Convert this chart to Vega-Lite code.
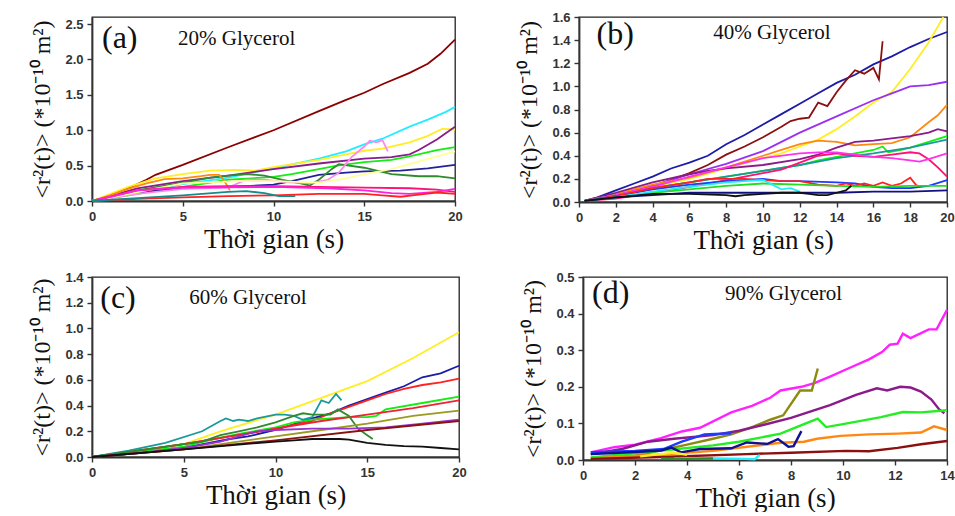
{
"$schema": "https://vega.github.io/schema/vega-lite/v6.json",
"background": "white",
"padding": {"left": 30, "top": 10, "right": 0, "bottom": 0},
"config": {
  "view": {"stroke": "#222", "strokeWidth": 1.3},
  "axis": {"labelFont": "Liberation Sans", "labelFontWeight": "bold", "labelFontSize": 13, "labelColor": "#333", "titleFont": "Liberation Serif", "titleFontWeight": "normal", "titleColor": "#111", "tickSize": 5, "tickWidth": 1.4, "tickColor": "#333", "domainColor": "#333", "domainWidth": 1.8, "grid": false, "labelFlush": false, "labelOverlap": false, "labelPadding": 4},
  "axisX": {"titleFontSize": 27, "titlePadding": 3},
  "axisY": {"titleFontSize": 24, "titlePadding": 10},
  "line": {"strokeWidth": 1.8, "clip": true},
  "text": {"font": "Liberation Serif", "align": "left", "baseline": "middle", "color": "#111"}
},
"datasets": {
"A": [
{"s":"a1","t":0,"r":0},{"s":"a1","t":1,"r":0.08},{"s":"a1","t":2,"r":0.18},{"s":"a1","t":3,"r":0.3},{"s":"a1","t":3.5,"r":0.37},{"s":"a1","t":5,"r":0.51},{"s":"a1","t":7.5,"r":0.76},{"s":"a1","t":10,"r":1.0},{"s":"a1","t":12.5,"r":1.27},{"s":"a1","t":14,"r":1.43},{"s":"a1","t":15,"r":1.53},{"s":"a1","t":16,"r":1.65},{"s":"a1","t":17.5,"r":1.81},{"s":"a1","t":18.5,"r":1.94},{"s":"a1","t":19.2,"r":2.08},{"s":"a1","t":20,"r":2.28},
{"s":"a2","t":0,"r":0},{"s":"a2","t":2.5,"r":0.12},{"s":"a2","t":5,"r":0.24},{"s":"a2","t":7.5,"r":0.33},{"s":"a2","t":10,"r":0.46},{"s":"a2","t":12.5,"r":0.6},{"s":"a2","t":14,"r":0.7},{"s":"a2","t":15,"r":0.8},{"s":"a2","t":16,"r":0.88},{"s":"a2","t":17.5,"r":1.05},{"s":"a2","t":18.5,"r":1.15},{"s":"a2","t":19.5,"r":1.26},{"s":"a2","t":20,"r":1.33},
{"s":"a3","t":0,"r":0},{"s":"a3","t":2,"r":0.2},{"s":"a3","t":3.5,"r":0.32},{"s":"a3","t":5,"r":0.38},{"s":"a3","t":6.5,"r":0.43},{"s":"a3","t":8,"r":0.44},{"s":"a3","t":9,"r":0.43},{"s":"a3","t":10,"r":0.48},{"s":"a3","t":12.5,"r":0.58},{"s":"a3","t":14,"r":0.66},{"s":"a3","t":15,"r":0.71},{"s":"a3","t":16,"r":0.74},{"s":"a3","t":17.5,"r":0.83},{"s":"a3","t":18.5,"r":0.92},{"s":"a3","t":19.3,"r":1.02},{"s":"a3","t":20,"r":1.01},
{"s":"a4","t":0,"r":0},{"s":"a4","t":2.5,"r":0.18},{"s":"a4","t":5,"r":0.28},{"s":"a4","t":7.5,"r":0.36},{"s":"a4","t":10,"r":0.45},{"s":"a4","t":12.5,"r":0.53},{"s":"a4","t":15,"r":0.6},{"s":"a4","t":16.5,"r":0.62},{"s":"a4","t":17.5,"r":0.66},{"s":"a4","t":18,"r":0.72},{"s":"a4","t":19,"r":0.87},{"s":"a4","t":20,"r":1.05},
{"s":"a5","t":0,"r":0},{"s":"a5","t":2.5,"r":0.1},{"s":"a5","t":5,"r":0.2},{"s":"a5","t":7.5,"r":0.3},{"s":"a5","t":10,"r":0.34},{"s":"a5","t":11,"r":0.38},{"s":"a5","t":12.5,"r":0.45},{"s":"a5","t":13.5,"r":0.5},{"s":"a5","t":15,"r":0.55},{"s":"a5","t":16.5,"r":0.58},{"s":"a5","t":17.5,"r":0.63},{"s":"a5","t":19,"r":0.72},{"s":"a5","t":20,"r":0.76},
{"s":"a6","t":0,"r":0},{"s":"a6","t":2.5,"r":0.12},{"s":"a6","t":5,"r":0.18},{"s":"a6","t":7.5,"r":0.2},{"s":"a6","t":10,"r":0.23},{"s":"a6","t":11,"r":0.28},{"s":"a6","t":12.5,"r":0.37},{"s":"a6","t":14,"r":0.4},{"s":"a6","t":15,"r":0.42},{"s":"a6","t":17,"r":0.43},{"s":"a6","t":18.5,"r":0.46},{"s":"a6","t":20,"r":0.51},
{"s":"a7","t":0,"r":0},{"s":"a7","t":2.5,"r":0.15},{"s":"a7","t":5,"r":0.26},{"s":"a7","t":6.5,"r":0.33},{"s":"a7","t":7.5,"r":0.36},{"s":"a7","t":8.5,"r":0.38},{"s":"a7","t":9.5,"r":0.36},{"s":"a7","t":10.5,"r":0.3},{"s":"a7","t":11.5,"r":0.25},{"s":"a7","t":12,"r":0.22},{"s":"a7","t":12.5,"r":0.3},{"s":"a7","t":13.2,"r":0.45},{"s":"a7","t":13.6,"r":0.52},{"s":"a7","t":15,"r":0.47},{"s":"a7","t":16.5,"r":0.38},{"s":"a7","t":18,"r":0.35},{"s":"a7","t":19,"r":0.35},{"s":"a7","t":20,"r":0.32},
{"s":"a8","t":0,"r":0},{"s":"a8","t":1,"r":0.08},{"s":"a8","t":2,"r":0.17},{"s":"a8","t":3,"r":0.25},{"s":"a8","t":4,"r":0.31},{"s":"a8","t":5,"r":0.32},{"s":"a8","t":6,"r":0.35},{"s":"a8","t":6.5,"r":0.37},{"s":"a8","t":7,"r":0.37},{"s":"a8","t":7.3,"r":0.28},{"s":"a8","t":7.6,"r":0.15},
{"s":"a9","t":0,"r":0},{"s":"a9","t":2.5,"r":0.1},{"s":"a9","t":5,"r":0.17},{"s":"a9","t":7.5,"r":0.19},{"s":"a9","t":8.5,"r":0.3},{"s":"a9","t":9.5,"r":0.3},{"s":"a9","t":10.5,"r":0.27},{"s":"a9","t":12,"r":0.25},{"s":"a9","t":13,"r":0.3},{"s":"a9","t":13.6,"r":0.4},{"s":"a9","t":14.3,"r":0.62},{"s":"a9","t":15,"r":0.77},{"s":"a9","t":15.3,"r":0.85},{"s":"a9","t":15.7,"r":0.83},{"s":"a9","t":16,"r":0.86},{"s":"a9","t":16.3,"r":0.7},
{"s":"a10","t":0,"r":0},{"s":"a10","t":5,"r":0.25},{"s":"a10","t":8,"r":0.28},{"s":"a10","t":10,"r":0.28},{"s":"a10","t":12.5,"r":0.26},{"s":"a10","t":14,"r":0.32},{"s":"a10","t":15,"r":0.38},{"s":"a10","t":16.5,"r":0.45},{"s":"a10","t":17.5,"r":0.52},{"s":"a10","t":19,"r":0.63},{"s":"a10","t":20,"r":0.7},
{"s":"a11","t":0,"r":0},{"s":"a11","t":2.5,"r":0.15},{"s":"a11","t":5,"r":0.2},{"s":"a11","t":7.5,"r":0.21},{"s":"a11","t":10,"r":0.21},{"s":"a11","t":12.5,"r":0.2},{"s":"a11","t":15,"r":0.19},{"s":"a11","t":17.5,"r":0.18},{"s":"a11","t":19,"r":0.16},{"s":"a11","t":20,"r":0.13},
{"s":"a12","t":0,"r":0},{"s":"a12","t":2.5,"r":0.15},{"s":"a12","t":5,"r":0.19},{"s":"a12","t":10,"r":0.2},{"s":"a12","t":13,"r":0.18},{"s":"a12","t":15,"r":0.15},{"s":"a12","t":16.5,"r":0.11},{"s":"a12","t":17.5,"r":0.1},{"s":"a12","t":19,"r":0.13},{"s":"a12","t":20,"r":0.17},
{"s":"a13","t":0,"r":0},{"s":"a13","t":2.5,"r":0.03},{"s":"a13","t":5,"r":0.05},{"s":"a13","t":7.5,"r":0.07},{"s":"a13","t":10,"r":0.08},{"s":"a13","t":12.5,"r":0.1},{"s":"a13","t":15,"r":0.1},{"s":"a13","t":16,"r":0.08},{"s":"a13","t":17,"r":0.06},{"s":"a13","t":18,"r":0.09},{"s":"a13","t":19,"r":0.12},{"s":"a13","t":20,"r":0.1},
{"s":"a14","t":0,"r":0},{"s":"a14","t":2.5,"r":0.04},{"s":"a14","t":5,"r":0.08},{"s":"a14","t":7.5,"r":0.13},{"s":"a14","t":8.5,"r":0.14},{"s":"a14","t":9.5,"r":0.11},{"s":"a14","t":10.3,"r":0.07},{"s":"a14","t":11.2,"r":0.07}
],
"B": [
{"s":"b1","t":0.3,"r":0.01},{"s":"b1","t":1,"r":0.04},{"s":"b1","t":2,"r":0.1},{"s":"b1","t":3,"r":0.16},{"s":"b1","t":4,"r":0.22},{"s":"b1","t":5,"r":0.29},{"s":"b1","t":6,"r":0.34},{"s":"b1","t":7,"r":0.4},{"s":"b1","t":8,"r":0.5},{"s":"b1","t":9,"r":0.58},{"s":"b1","t":10,"r":0.67},{"s":"b1","t":11,"r":0.76},{"s":"b1","t":12,"r":0.85},{"s":"b1","t":13,"r":0.94},{"s":"b1","t":14,"r":1.03},{"s":"b1","t":15,"r":1.1},{"s":"b1","t":16,"r":1.19},{"s":"b1","t":17,"r":1.26},{"s":"b1","t":18,"r":1.34},{"s":"b1","t":19,"r":1.41},{"s":"b1","t":20,"r":1.47},
{"s":"b2","t":0.3,"r":0.01},{"s":"b2","t":2,"r":0.07},{"s":"b2","t":4,"r":0.14},{"s":"b2","t":5,"r":0.19},{"s":"b2","t":6,"r":0.25},{"s":"b2","t":7,"r":0.32},{"s":"b2","t":8,"r":0.41},{"s":"b2","t":9,"r":0.48},{"s":"b2","t":10,"r":0.56},{"s":"b2","t":11,"r":0.65},{"s":"b2","t":11.5,"r":0.7},{"s":"b2","t":12,"r":0.72},{"s":"b2","t":12.5,"r":0.73},{"s":"b2","t":13,"r":0.86},{"s":"b2","t":13.5,"r":0.83},{"s":"b2","t":14,"r":0.95},{"s":"b2","t":14.5,"r":1.05},{"s":"b2","t":15,"r":1.14},{"s":"b2","t":15.5,"r":1.11},{"s":"b2","t":16,"r":1.16},{"s":"b2","t":16.3,"r":1.06},{"s":"b2","t":16.5,"r":1.39},
{"s":"b3","t":0.3,"r":0.01},{"s":"b3","t":2,"r":0.06},{"s":"b3","t":4,"r":0.13},{"s":"b3","t":6,"r":0.2},{"s":"b3","t":8,"r":0.29},{"s":"b3","t":10,"r":0.38},{"s":"b3","t":11,"r":0.42},{"s":"b3","t":12,"r":0.48},{"s":"b3","t":13,"r":0.54},{"s":"b3","t":14,"r":0.63},{"s":"b3","t":15,"r":0.74},{"s":"b3","t":16,"r":0.86},{"s":"b3","t":17,"r":0.95},{"s":"b3","t":18,"r":1.15},{"s":"b3","t":19,"r":1.38},{"s":"b3","t":19.8,"r":1.6},
{"s":"b4","t":0.3,"r":0.01},{"s":"b4","t":2,"r":0.06},{"s":"b4","t":4,"r":0.14},{"s":"b4","t":6,"r":0.24},{"s":"b4","t":8,"r":0.33},{"s":"b4","t":10,"r":0.44},{"s":"b4","t":12,"r":0.6},{"s":"b4","t":14,"r":0.74},{"s":"b4","t":16,"r":0.88},{"s":"b4","t":17,"r":0.94},{"s":"b4","t":18,"r":1.0},{"s":"b4","t":19,"r":1.01},{"s":"b4","t":20,"r":1.04},
{"s":"b5","t":0.3,"r":0.01},{"s":"b5","t":2,"r":0.07},{"s":"b5","t":4,"r":0.15},{"s":"b5","t":6,"r":0.21},{"s":"b5","t":8,"r":0.3},{"s":"b5","t":10,"r":0.4},{"s":"b5","t":11,"r":0.45},{"s":"b5","t":12,"r":0.5},{"s":"b5","t":13,"r":0.53},{"s":"b5","t":14,"r":0.52},{"s":"b5","t":15,"r":0.49},{"s":"b5","t":16,"r":0.5},{"s":"b5","t":17,"r":0.51},{"s":"b5","t":18,"r":0.56},{"s":"b5","t":19,"r":0.69},{"s":"b5","t":19.5,"r":0.75},{"s":"b5","t":20,"r":0.84},
{"s":"b6","t":0.3,"r":0.01},{"s":"b6","t":2,"r":0.08},{"s":"b6","t":4,"r":0.17},{"s":"b6","t":6,"r":0.24},{"s":"b6","t":7,"r":0.27},{"s":"b6","t":8,"r":0.29},{"s":"b6","t":10,"r":0.32},{"s":"b6","t":12,"r":0.37},{"s":"b6","t":13,"r":0.41},{"s":"b6","t":14,"r":0.47},{"s":"b6","t":15,"r":0.52},{"s":"b6","t":16,"r":0.53},{"s":"b6","t":17,"r":0.55},{"s":"b6","t":18,"r":0.57},{"s":"b6","t":19,"r":0.6},{"s":"b6","t":19.5,"r":0.63},{"s":"b6","t":20,"r":0.61},
{"s":"b7","t":0.3,"r":0.01},{"s":"b7","t":2,"r":0.06},{"s":"b7","t":4,"r":0.12},{"s":"b7","t":6,"r":0.17},{"s":"b7","t":8,"r":0.22},{"s":"b7","t":10,"r":0.27},{"s":"b7","t":12,"r":0.32},{"s":"b7","t":13,"r":0.36},{"s":"b7","t":14,"r":0.39},{"s":"b7","t":15,"r":0.42},{"s":"b7","t":16,"r":0.45},{"s":"b7","t":16.5,"r":0.48},{"s":"b7","t":16.8,"r":0.43},{"s":"b7","t":17.5,"r":0.45},{"s":"b7","t":18,"r":0.47},{"s":"b7","t":19,"r":0.52},{"s":"b7","t":20,"r":0.57},
{"s":"b8","t":0.3,"r":0.01},{"s":"b8","t":2,"r":0.06},{"s":"b8","t":4,"r":0.12},{"s":"b8","t":6,"r":0.17},{"s":"b8","t":8,"r":0.22},{"s":"b8","t":10,"r":0.27},{"s":"b8","t":12,"r":0.32},{"s":"b8","t":14,"r":0.38},{"s":"b8","t":16,"r":0.42},{"s":"b8","t":18,"r":0.47},{"s":"b8","t":20,"r":0.54},
{"s":"b9","t":0.3,"r":0.01},{"s":"b9","t":2,"r":0.03},{"s":"b9","t":4,"r":0.08},{"s":"b9","t":6,"r":0.13},{"s":"b9","t":8,"r":0.19},{"s":"b9","t":10,"r":0.25},{"s":"b9","t":11,"r":0.28},{"s":"b9","t":12,"r":0.34},{"s":"b9","t":13,"r":0.4},{"s":"b9","t":14,"r":0.42},{"s":"b9","t":15,"r":0.4},{"s":"b9","t":16,"r":0.39},{"s":"b9","t":17,"r":0.41},{"s":"b9","t":18,"r":0.43},{"s":"b9","t":18.5,"r":0.42},{"s":"b9","t":19,"r":0.37},{"s":"b9","t":19.5,"r":0.3},{"s":"b9","t":20,"r":0.22},
{"s":"b10","t":0.3,"r":0.01},{"s":"b10","t":2,"r":0.06},{"s":"b10","t":4,"r":0.13},{"s":"b10","t":6,"r":0.22},{"s":"b10","t":8,"r":0.3},{"s":"b10","t":10,"r":0.38},{"s":"b10","t":12,"r":0.42},{"s":"b10","t":13,"r":0.43},{"s":"b10","t":14,"r":0.43},{"s":"b10","t":15,"r":0.41},{"s":"b10","t":16,"r":0.39},{"s":"b10","t":17,"r":0.38},{"s":"b10","t":18,"r":0.36},{"s":"b10","t":18.5,"r":0.35},{"s":"b10","t":19,"r":0.37},{"s":"b10","t":20,"r":0.42},
{"s":"b11","t":0.3,"r":0.01},{"s":"b11","t":2,"r":0.05},{"s":"b11","t":4,"r":0.11},{"s":"b11","t":6,"r":0.15},{"s":"b11","t":8,"r":0.18},{"s":"b11","t":9,"r":0.19},{"s":"b11","t":10,"r":0.2},{"s":"b11","t":11,"r":0.18},{"s":"b11","t":12,"r":0.18},{"s":"b11","t":14,"r":0.17},{"s":"b11","t":15,"r":0.16},{"s":"b11","t":16,"r":0.13},{"s":"b11","t":17,"r":0.12},{"s":"b11","t":18,"r":0.12},{"s":"b11","t":19,"r":0.14},{"s":"b11","t":20,"r":0.19},
{"s":"b12","t":0.3,"r":0.01},{"s":"b12","t":2,"r":0.05},{"s":"b12","t":4,"r":0.12},{"s":"b12","t":6,"r":0.17},{"s":"b12","t":7,"r":0.2},{"s":"b12","t":8,"r":0.2},{"s":"b12","t":9,"r":0.2},{"s":"b12","t":10,"r":0.19},{"s":"b12","t":11,"r":0.18},{"s":"b12","t":12,"r":0.18},{"s":"b12","t":13,"r":0.15},{"s":"b12","t":14,"r":0.14},{"s":"b12","t":14.5,"r":0.16},{"s":"b12","t":15,"r":0.14},{"s":"b12","t":15.5,"r":0.16},{"s":"b12","t":16,"r":0.14},{"s":"b12","t":16.5,"r":0.17},{"s":"b12","t":17,"r":0.14},{"s":"b12","t":17.5,"r":0.16},{"s":"b12","t":18,"r":0.21},{"s":"b12","t":18.3,"r":0.15},{"s":"b12","t":18.5,"r":0.13},
{"s":"b13","t":0.3,"r":0.01},{"s":"b13","t":2,"r":0.04},{"s":"b13","t":4,"r":0.08},{"s":"b13","t":6,"r":0.11},{"s":"b13","t":8,"r":0.14},{"s":"b13","t":10,"r":0.16},{"s":"b13","t":12,"r":0.15},{"s":"b13","t":14,"r":0.14},{"s":"b13","t":16,"r":0.13},{"s":"b13","t":18,"r":0.14},{"s":"b13","t":20,"r":0.14},
{"s":"b14","t":0.3,"r":0.01},{"s":"b14","t":2,"r":0.04},{"s":"b14","t":4,"r":0.09},{"s":"b14","t":6,"r":0.13},{"s":"b14","t":8,"r":0.17},{"s":"b14","t":9,"r":0.18},{"s":"b14","t":10,"r":0.19},{"s":"b14","t":10.5,"r":0.15},{"s":"b14","t":11,"r":0.11},{"s":"b14","t":11.5,"r":0.12},{"s":"b14","t":12,"r":0.09},
{"s":"b15","t":0.3,"r":0.01},{"s":"b15","t":2,"r":0.04},{"s":"b15","t":4,"r":0.06},{"s":"b15","t":6,"r":0.08},{"s":"b15","t":8,"r":0.08},{"s":"b15","t":10,"r":0.08},{"s":"b15","t":12,"r":0.08},{"s":"b15","t":14,"r":0.08},{"s":"b15","t":16,"r":0.09},{"s":"b15","t":18,"r":0.09},{"s":"b15","t":20,"r":0.1},
{"s":"b16","t":0.3,"r":0.01},{"s":"b16","t":2,"r":0.04},{"s":"b16","t":4,"r":0.07},{"s":"b16","t":6,"r":0.07},{"s":"b16","t":8,"r":0.06},{"s":"b16","t":8.5,"r":0.05},{"s":"b16","t":9,"r":0.06},{"s":"b16","t":10,"r":0.07},{"s":"b16","t":11,"r":0.08},{"s":"b16","t":12,"r":0.08},{"s":"b16","t":12.5,"r":0.07},{"s":"b16","t":13,"r":0.06},{"s":"b16","t":13.5,"r":0.06},{"s":"b16","t":14,"r":0.08},{"s":"b16","t":14.5,"r":0.1},{"s":"b16","t":14.8,"r":0.14}
],
"C": [
{"s":"c1","t":0,"r":0},{"s":"c1","t":2.5,"r":0.04},{"s":"c1","t":5,"r":0.1},{"s":"c1","t":7,"r":0.2},{"s":"c1","t":10,"r":0.33},{"s":"c1","t":12.5,"r":0.46},{"s":"c1","t":15,"r":0.59},{"s":"c1","t":17.5,"r":0.77},{"s":"c1","t":20,"r":0.97},
{"s":"c2","t":0,"r":0},{"s":"c2","t":2.5,"r":0.03},{"s":"c2","t":5,"r":0.07},{"s":"c2","t":7.5,"r":0.14},{"s":"c2","t":8.5,"r":0.16},{"s":"c2","t":10,"r":0.21},{"s":"c2","t":12,"r":0.3},{"s":"c2","t":13,"r":0.34},{"s":"c2","t":14,"r":0.4},{"s":"c2","t":15,"r":0.45},{"s":"c2","t":16,"r":0.5},{"s":"c2","t":17,"r":0.55},{"s":"c2","t":18,"r":0.62},{"s":"c2","t":19,"r":0.65},{"s":"c2","t":20,"r":0.71},
{"s":"c3","t":0,"r":0},{"s":"c3","t":2.5,"r":0.05},{"s":"c3","t":5,"r":0.1},{"s":"c3","t":7.5,"r":0.16},{"s":"c3","t":10,"r":0.22},{"s":"c3","t":12,"r":0.28},{"s":"c3","t":13,"r":0.34},{"s":"c3","t":14,"r":0.39},{"s":"c3","t":15,"r":0.44},{"s":"c3","t":16,"r":0.49},{"s":"c3","t":17,"r":0.53},{"s":"c3","t":18,"r":0.56},{"s":"c3","t":19,"r":0.58},{"s":"c3","t":20,"r":0.61},
{"s":"c4","t":0,"r":0},{"s":"c4","t":2.5,"r":0.04},{"s":"c4","t":5,"r":0.08},{"s":"c4","t":7,"r":0.15},{"s":"c4","t":8,"r":0.18},{"s":"c4","t":10,"r":0.23},{"s":"c4","t":11,"r":0.27},{"s":"c4","t":12,"r":0.29},{"s":"c4","t":13,"r":0.3},{"s":"c4","t":14,"r":0.31},{"s":"c4","t":15,"r":0.31},{"s":"c4","t":15.5,"r":0.32},{"s":"c4","t":16,"r":0.37},{"s":"c4","t":18,"r":0.42},{"s":"c4","t":20,"r":0.47},
{"s":"c5","t":0,"r":0},{"s":"c5","t":2.5,"r":0.05},{"s":"c5","t":5,"r":0.1},{"s":"c5","t":7.5,"r":0.16},{"s":"c5","t":10,"r":0.22},{"s":"c5","t":12.5,"r":0.28},{"s":"c5","t":15,"r":0.33},{"s":"c5","t":17.5,"r":0.38},{"s":"c5","t":20,"r":0.44},
{"s":"c6","t":0,"r":0},{"s":"c6","t":2,"r":0.05},{"s":"c6","t":4,"r":0.11},{"s":"c6","t":6,"r":0.2},{"s":"c6","t":7,"r":0.28},{"s":"c6","t":7.3,"r":0.3},{"s":"c6","t":7.7,"r":0.28},{"s":"c6","t":8,"r":0.29},{"s":"c6","t":8.5,"r":0.28},{"s":"c6","t":9,"r":0.3},{"s":"c6","t":10,"r":0.33},{"s":"c6","t":10.5,"r":0.33},{"s":"c6","t":11,"r":0.32},{"s":"c6","t":11.5,"r":0.29},{"s":"c6","t":12,"r":0.31},{"s":"c6","t":12.5,"r":0.44},{"s":"c6","t":12.9,"r":0.42},{"s":"c6","t":13.3,"r":0.49},{"s":"c6","t":13.6,"r":0.44},
{"s":"c7","t":0,"r":0},{"s":"c7","t":4,"r":0.08},{"s":"c7","t":6,"r":0.12},{"s":"c7","t":7,"r":0.17},{"s":"c7","t":8,"r":0.2},{"s":"c7","t":9,"r":0.23},{"s":"c7","t":10,"r":0.27},{"s":"c7","t":11,"r":0.32},{"s":"c7","t":11.5,"r":0.34},{"s":"c7","t":12,"r":0.33},{"s":"c7","t":13,"r":0.33},{"s":"c7","t":13.4,"r":0.37},{"s":"c7","t":14,"r":0.32},{"s":"c7","t":14.5,"r":0.22},{"s":"c7","t":15,"r":0.17},{"s":"c7","t":15.3,"r":0.14},
{"s":"c8","t":0,"r":0},{"s":"c8","t":2.5,"r":0.03},{"s":"c8","t":5,"r":0.06},{"s":"c8","t":7.5,"r":0.11},{"s":"c8","t":10,"r":0.16},{"s":"c8","t":12.5,"r":0.21},{"s":"c8","t":15,"r":0.26},{"s":"c8","t":17.5,"r":0.32},{"s":"c8","t":20,"r":0.36},
{"s":"c9","t":0,"r":0},{"s":"c9","t":2.5,"r":0.03},{"s":"c9","t":5,"r":0.07},{"s":"c9","t":7,"r":0.12},{"s":"c9","t":8,"r":0.16},{"s":"c9","t":9,"r":0.2},{"s":"c9","t":10,"r":0.21},{"s":"c9","t":12,"r":0.22},{"s":"c9","t":14,"r":0.22},{"s":"c9","t":16,"r":0.23},{"s":"c9","t":18,"r":0.26},{"s":"c9","t":20,"r":0.29},
{"s":"c10","t":0,"r":0},{"s":"c10","t":5,"r":0.06},{"s":"c10","t":10,"r":0.13},{"s":"c10","t":15,"r":0.21},{"s":"c10","t":20,"r":0.28},
{"s":"c11","t":0,"r":0},{"s":"c11","t":5,"r":0.06},{"s":"c11","t":10,"r":0.12},{"s":"c11","t":11,"r":0.13},{"s":"c11","t":12,"r":0.14},{"s":"c11","t":13.5,"r":0.14},{"s":"c11","t":14,"r":0.135},{"s":"c11","t":15,"r":0.11},{"s":"c11","t":16,"r":0.095},{"s":"c11","t":17,"r":0.085},{"s":"c11","t":18,"r":0.08},{"s":"c11","t":19,"r":0.07},{"s":"c11","t":20,"r":0.06}
],
"D": [
{"s":"d1","t":0.3,"r":0.021},{"s":"d1","t":1.2,"r":0.035},{"s":"d1","t":2,"r":0.042},{"s":"d1","t":3,"r":0.06},{"s":"d1","t":3.8,"r":0.078},{"s":"d1","t":4.5,"r":0.088},{"s":"d1","t":5.7,"r":0.13},{"s":"d1","t":6.5,"r":0.148},{"s":"d1","t":7.2,"r":0.17},{"s":"d1","t":7.6,"r":0.19},{"s":"d1","t":8.4,"r":0.2},{"s":"d1","t":8.9,"r":0.21},{"s":"d1","t":9.5,"r":0.228},{"s":"d1","t":10.2,"r":0.25},{"s":"d1","t":11,"r":0.275},{"s":"d1","t":11.5,"r":0.295},{"s":"d1","t":11.8,"r":0.315},{"s":"d1","t":12.1,"r":0.318},{"s":"d1","t":12.3,"r":0.345},{"s":"d1","t":12.6,"r":0.333},{"s":"d1","t":13.3,"r":0.357},{"s":"d1","t":13.6,"r":0.357},{"s":"d1","t":14,"r":0.41},
{"s":"d2","t":0.3,"r":0.005},{"s":"d2","t":2,"r":0.012},{"s":"d2","t":3.1,"r":0.028},{"s":"d2","t":4,"r":0.042},{"s":"d2","t":5,"r":0.058},{"s":"d2","t":5.7,"r":0.07},{"s":"d2","t":6.5,"r":0.09},{"s":"d2","t":7.2,"r":0.11},{"s":"d2","t":7.7,"r":0.122},{"s":"d2","t":8.35,"r":0.19},{"s":"d2","t":8.8,"r":0.19},{"s":"d2","t":9.03,"r":0.25},
{"s":"d3","t":0.3,"r":0.016},{"s":"d3","t":1.5,"r":0.03},{"s":"d3","t":2.5,"r":0.05},{"s":"d3","t":3.5,"r":0.058},{"s":"d3","t":5,"r":0.068},{"s":"d3","t":6,"r":0.08},{"s":"d3","t":7,"r":0.097},{"s":"d3","t":8,"r":0.115},{"s":"d3","t":9.5,"r":0.15},{"s":"d3","t":10.5,"r":0.178},{"s":"d3","t":11.3,"r":0.196},{"s":"d3","t":11.7,"r":0.19},{"s":"d3","t":12.2,"r":0.2},{"s":"d3","t":12.6,"r":0.198},{"s":"d3","t":13,"r":0.187},{"s":"d3","t":13.4,"r":0.165},{"s":"d3","t":13.7,"r":0.138},{"s":"d3","t":13.9,"r":0.128},
{"s":"d4","t":0.3,"r":0.007},{"s":"d4","t":2.5,"r":0.022},{"s":"d4","t":5,"r":0.04},{"s":"d4","t":6,"r":0.05},{"s":"d4","t":7.6,"r":0.072},{"s":"d4","t":8.5,"r":0.098},{"s":"d4","t":9.03,"r":0.113},{"s":"d4","t":9.35,"r":0.09},{"s":"d4","t":10,"r":0.098},{"s":"d4","t":11.46,"r":0.117},{"s":"d4","t":12.3,"r":0.131},{"s":"d4","t":13,"r":0.13},{"s":"d4","t":14,"r":0.136},
{"s":"d5","t":0.3,"r":0.004},{"s":"d5","t":3,"r":0.015},{"s":"d5","t":5,"r":0.025},{"s":"d5","t":7.6,"r":0.047},{"s":"d5","t":8.5,"r":0.05},{"s":"d5","t":9,"r":0.058},{"s":"d5","t":9.9,"r":0.066},{"s":"d5","t":11,"r":0.07},{"s":"d5","t":12.1,"r":0.072},{"s":"d5","t":13,"r":0.075},{"s":"d5","t":13.5,"r":0.092},{"s":"d5","t":14,"r":0.082},
{"s":"d6","t":0.3,"r":0.003},{"s":"d6","t":3,"r":0.008},{"s":"d6","t":6.3,"r":0.016},{"s":"d6","t":8,"r":0.02},{"s":"d6","t":10.1,"r":0.025},{"s":"d6","t":11,"r":0.024},{"s":"d6","t":12.1,"r":0.033},{"s":"d6","t":13,"r":0.043},{"s":"d6","t":14,"r":0.052},
{"s":"d7","t":0.3,"r":0.021},{"s":"d7","t":2,"r":0.025},{"s":"d7","t":3.1,"r":0.03},{"s":"d7","t":3.8,"r":0.05},{"s":"d7","t":4.67,"r":0.07},{"s":"d7","t":5.7,"r":0.073},
{"s":"d8","t":0.3,"r":0.016},{"s":"d8","t":2,"r":0.022},{"s":"d8","t":3,"r":0.026},{"s":"d8","t":3.4,"r":0.034},{"s":"d8","t":3.77,"r":0.021},{"s":"d8","t":4.5,"r":0.03},{"s":"d8","t":5.7,"r":0.032},{"s":"d8","t":6.3,"r":0.048},{"s":"d8","t":7.1,"r":0.044},{"s":"d8","t":7.5,"r":0.057},{"s":"d8","t":7.9,"r":0.036},{"s":"d8","t":8.1,"r":0.038},{"s":"d8","t":8.4,"r":0.079},
{"s":"d9","t":3.5,"r":0.004},{"s":"d9","t":5,"r":0.004},{"s":"d9","t":6.2,"r":0.003},{"s":"d9","t":6.6,"r":0.002},{"s":"d9","t":6.8,"r":0.014},
{"s":"d10","t":2.2,"r":0.01},{"s":"d10","t":3,"r":0.016},{"s":"d10","t":3.5,"r":0.02},{"s":"d10","t":4,"r":0.014},
{"s":"d11","t":3,"r":0.004},{"s":"d11","t":4,"r":0.003},{"s":"d11","t":5,"r":0.004}
]
},
"resolve": {"scale": {"color": "independent"}},
"vconcat": [
{"resolve": {"scale": {"color": "independent"}}, "hconcat": [
{"width": 363, "height": 184, "layer": [
 {"data": {"name": "A"}, "mark": {"type": "line"},
  "encoding": {
   "x": {"field": "t", "type": "quantitative", "scale": {"domain": [0, 20]}, "axis": {"values": [0,5,10,15,20], "labelOverlap": false, "title": "Thời gian (s)"}},
   "y": {"field": "r", "type": "quantitative", "scale": {"domain": [0, 2.5]}, "axis": {"values": [0,0.5,1,1.5,2,2.5], "labelOverlap": false, "format": ".1f", "title": "<r²(t)> (*10⁻¹⁰ m²)"}},
   "color": {"field": "s", "type": "nominal", "legend": null, "scale": {"domain": ["a1","a2","a3","a4","a5","a6","a7","a8","a9","a10","a11","a12","a13","a14"], "range": ["#8b0000","#22eeff","#ffee22","#8b1a8b","#11ee11","#22229a","#2e8b2e","#ff8811","#ff88ee","#ffff99","#ff1177","#ff22dd","#ff2222","#128c8c"]}}
  }},
 {"data": {"values": [{}]}, "mark": {"type": "text", "fontSize": 32}, "encoding": {"x": {"datum": 0.55, "type": "quantitative", "axis": {"values": [0,5,10,15,20], "labelOverlap": false, "title": "Thời gian (s)"}}, "y": {"datum": 2.3, "type": "quantitative", "axis": {"values": [0,0.5,1,1.5,2,2.5], "labelOverlap": false, "format": ".1f", "title": "<r²(t)> (*10⁻¹⁰ m²)"}}, "text": {"value": "(a)"}}},
 {"data": {"values": [{}]}, "mark": {"type": "text", "fontSize": 21}, "encoding": {"x": {"datum": 4.74, "type": "quantitative", "axis": {"values": [0,5,10,15,20], "labelOverlap": false, "title": "Thời gian (s)"}}, "y": {"datum": 2.29, "type": "quantitative", "axis": {"values": [0,0.5,1,1.5,2,2.5], "labelOverlap": false, "format": ".1f", "title": "<r²(t)> (*10⁻¹⁰ m²)"}}, "text": {"value": "20% Glycerol"}}}
]},
{"width": 368, "height": 185, "layer": [
 {"data": {"name": "B"}, "mark": {"type": "line"},
  "encoding": {
   "x": {"field": "t", "type": "quantitative", "scale": {"domain": [0, 20]}, "axis": {"values": [0,2,4,6,8,10,12,14,16,18,20], "labelOverlap": false, "title": "Thời gian (s)"}},
   "y": {"field": "r", "type": "quantitative", "scale": {"domain": [0, 1.6]}, "axis": {"values": [0,0.2,0.4,0.6,0.8,1,1.2,1.4,1.6], "labelOverlap": false, "format": ".1f", "title": "<r²(t)> (*10⁻¹⁰ m²)"}},
   "color": {"field": "s", "type": "nominal", "legend": null, "scale": {"domain": ["b1","b2","b3","b4","b5","b6","b7","b8","b9","b10","b11","b12","b13","b14","b15","b16"], "range": ["#1c1ca8","#8b1010","#ffee22","#9a30f0","#ff8811","#8b1a8b","#11ee11","#1a9a9a","#ff1177","#ff33ee","#1e3cff","#ff2222","#22dd22","#22eeff","#101080","#111111"]}}
  }},
 {"data": {"values": [{}]}, "mark": {"type": "text", "fontSize": 32}, "encoding": {"x": {"datum": 0.95, "type": "quantitative", "axis": {"values": [0,2,4,6,8,10,12,14,16,18,20], "labelOverlap": false, "title": "Thời gian (s)"}}, "y": {"datum": 1.45, "type": "quantitative", "axis": {"values": [0,0.2,0.4,0.6,0.8,1,1.2,1.4,1.6], "labelOverlap": false, "format": ".1f", "title": "<r²(t)> (*10⁻¹⁰ m²)"}}, "text": {"value": "(b)"}}},
 {"data": {"values": [{}]}, "mark": {"type": "text", "fontSize": 21}, "encoding": {"x": {"datum": 7.3, "type": "quantitative", "axis": {"values": [0,2,4,6,8,10,12,14,16,18,20], "labelOverlap": false, "title": "Thời gian (s)"}}, "y": {"datum": 1.46, "type": "quantitative", "axis": {"values": [0,0.2,0.4,0.6,0.8,1,1.2,1.4,1.6], "labelOverlap": false, "format": ".1f", "title": "<r²(t)> (*10⁻¹⁰ m²)"}}, "text": {"value": "40% Glycerol"}}}
]}
], "spacing": 54},
{"resolve": {"scale": {"color": "independent"}}, "hconcat": [
{"width": 367, "height": 180, "layer": [
 {"data": {"name": "C"}, "mark": {"type": "line"},
  "encoding": {
   "x": {"field": "t", "type": "quantitative", "scale": {"domain": [0, 20]}, "axis": {"values": [0,5,10,15,20], "labelOverlap": false, "title": "Thời gian (s)"}},
   "y": {"field": "r", "type": "quantitative", "scale": {"domain": [0, 1.4]}, "axis": {"values": [0,0.2,0.4,0.6,0.8,1,1.2,1.4], "labelOverlap": false, "format": ".1f", "title": "<r²(t)> (*10⁻¹⁰ m²)"}},
   "color": {"field": "s", "type": "nominal", "legend": null, "scale": {"domain": ["c1","c2","c3","c4","c5","c6","c7","c8","c9","c10","c11"], "range": ["#ffee22","#1c1ca8","#ff2222","#11ee11","#ee2233","#1a9a9a","#2e8b2e","#9a9a20","#9932cc","#8b1010","#111111"]}}
  }},
 {"data": {"values": [{}]}, "mark": {"type": "text", "fontSize": 32}, "encoding": {"x": {"datum": 0.45, "type": "quantitative", "axis": {"values": [0,5,10,15,20], "labelOverlap": false, "title": "Thời gian (s)"}}, "y": {"datum": 1.24, "type": "quantitative", "axis": {"values": [0,0.2,0.4,0.6,0.8,1,1.2,1.4], "labelOverlap": false, "format": ".1f", "title": "<r²(t)> (*10⁻¹⁰ m²)"}}, "text": {"value": "(c)"}}},
 {"data": {"values": [{}]}, "mark": {"type": "text", "fontSize": 21}, "encoding": {"x": {"datum": 5.3, "type": "quantitative", "axis": {"values": [0,5,10,15,20], "labelOverlap": false, "title": "Thời gian (s)"}}, "y": {"datum": 1.24, "type": "quantitative", "axis": {"values": [0,0.2,0.4,0.6,0.8,1,1.2,1.4], "labelOverlap": false, "format": ".1f", "title": "<r²(t)> (*10⁻¹⁰ m²)"}}, "text": {"value": "60% Glycerol"}}}
]},
{"width": 364, "height": 183, "layer": [
 {"data": {"name": "D"}, "mark": {"type": "line", "strokeWidth": 2.4},
  "encoding": {
   "x": {"field": "t", "type": "quantitative", "scale": {"domain": [0, 14]}, "axis": {"values": [0,2,4,6,8,10,12,14], "labelOverlap": false, "title": "Thời gian (s)"}},
   "y": {"field": "r", "type": "quantitative", "scale": {"domain": [0, 0.5]}, "axis": {"values": [0,0.1,0.2,0.3,0.4,0.5], "labelOverlap": false, "format": ".1f", "title": "<r²(t)> (*10⁻¹⁰ m²)"}},
   "color": {"field": "s", "type": "nominal", "legend": null, "scale": {"domain": ["d1","d2","d3","d4","d5","d6","d7","d8","d9","d10","d11"], "range": ["#ff22ff","#8b8b10","#8b1a8b","#22ee22","#ff8811","#8b1010","#1e3cff","#101090","#22eeff","#ffee22","#2e8b2e"]}}
  }},
 {"data": {"values": [{}]}, "mark": {"type": "text", "fontSize": 32}, "encoding": {"x": {"datum": 0.35, "type": "quantitative", "axis": {"values": [0,2,4,6,8,10,12,14], "labelOverlap": false, "title": "Thời gian (s)"}}, "y": {"datum": 0.456, "type": "quantitative", "axis": {"values": [0,0.1,0.2,0.3,0.4,0.5], "labelOverlap": false, "format": ".1f", "title": "<r²(t)> (*10⁻¹⁰ m²)"}}, "text": {"value": "(d)"}}},
 {"data": {"values": [{}]}, "mark": {"type": "text", "fontSize": 21}, "encoding": {"x": {"datum": 5.46, "type": "quantitative", "axis": {"values": [0,2,4,6,8,10,12,14], "labelOverlap": false, "title": "Thời gian (s)"}}, "y": {"datum": 0.454, "type": "quantitative", "axis": {"values": [0,0.1,0.2,0.3,0.4,0.5], "labelOverlap": false, "format": ".1f", "title": "<r²(t)> (*10⁻¹⁰ m²)"}}, "text": {"value": "90% Glycerol"}}}
]}
], "spacing": 54}
], "spacing": 16
}
